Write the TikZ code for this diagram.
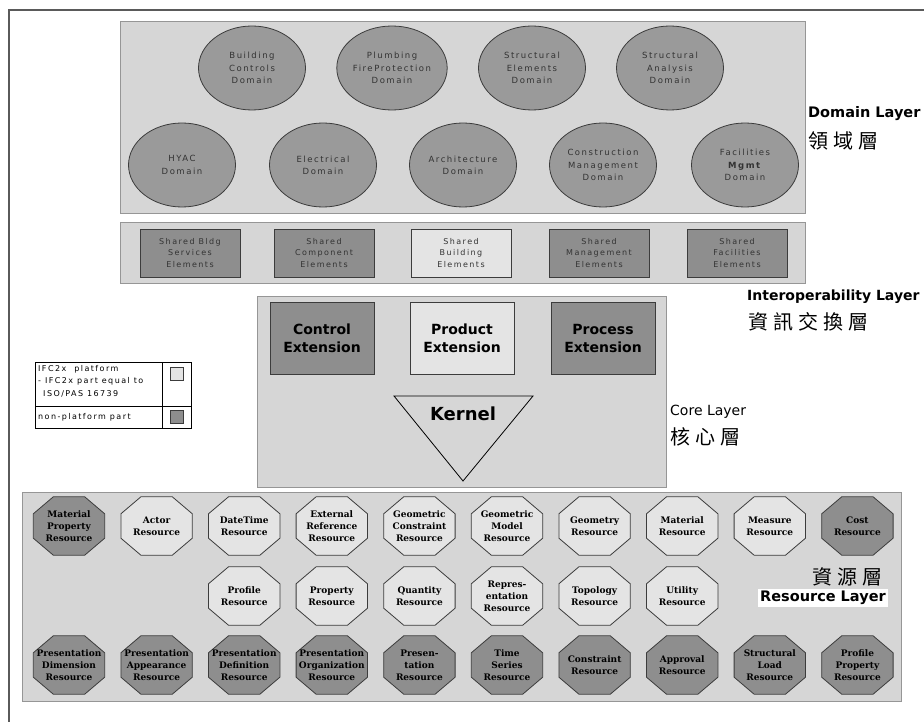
\documentclass[tikz,border=0pt]{standalone}
\usepackage{fontspec}
\setmainfont{DejaVu Sans}
\newfontfamily\cjk[LetterSpace=25]{Noto Sans CJK TC}
\newfontfamily\resfont{DejaVu Serif}
\newfontfamily\widefont[LetterSpace=18]{DejaVu Sans}
\usetikzlibrary{shapes.geometric}

\definecolor{layerFill}{RGB}{214,214,214}
\definecolor{layerLine}{RGB}{150,150,150}
\definecolor{nodeLine}{RGB}{60,60,60}
\definecolor{domainFill}{RGB}{154,154,154}
\definecolor{darkFill}{RGB}{142,142,142}
\definecolor{lightFill}{RGB}{228,228,228}
\definecolor{frameLine}{RGB}{90,90,90}

\begin{document}
\begin{tikzpicture}
[x=1pt,y=-1pt,
  layerDecorate/.style={draw=layerLine,fill=layerFill,line width=0.8pt},%
  domainDecorate/.style={shape=ellipse,draw=nodeLine,fill=domainFill,thick,
    minimum width=107pt,minimum height=84pt,inner sep=0pt,align=center,
    text=black!80,font=\widefont\fontsize{8.5}{12.3}\selectfont},%
  sharedDecorate/.style={shape=rectangle,draw=nodeLine,thick,
    minimum width=100pt,minimum height=48pt,inner sep=0pt,align=center,
    text=black!80,font=\widefont\fontsize{8}{11.5}\selectfont},%
  extDecorate/.style={shape=rectangle,draw=nodeLine,thick,
    minimum width=104pt,minimum height=72pt,inner sep=0pt,align=center,
    font=\bfseries\fontsize{14}{18}\selectfont},%
  resBox/.style={shape=rectangle,minimum width=71pt,minimum height=58pt,inner sep=0pt},%
  resLine/.style={draw=nodeLine,thick,line join=round},%
  resText/.style={align=center,inner sep=0pt,
    font=\resfont\bfseries\fontsize{9}{12}\selectfont},%
  layerLabel/.style={anchor=west,inner sep=0pt,font=\bfseries\fontsize{14.5}{16}\selectfont},%
  zhLabel/.style={anchor=west,inner sep=0pt,font=\cjk\fontsize{20}{22}\selectfont}]
%%
\useasboundingbox (0,0) rectangle (924,722);
\draw[frameLine,line width=1.2pt] (9,722) -- (9,10) -- (924,10);
%%
%% domain layer
\draw[layerDecorate] (120,21) rectangle (805,213);
\foreach \nodename/\x/\y/\txt in {
  bldgCtrl/252/68/{Building\\Controls\\Domain},
  plumbing/392/68/{Plumbing\\FireProtection\\Domain},
  structElem/532/68/{Structural\\Elements\\Domain},
  structAnal/670/68/{Structural\\Analysis\\Domain},
  hvac/182/165/{HYAC\\Domain},
  electrical/323/165/{Electrical\\Domain},
  architecture/463/165/{Architecture\\Domain},
  constrMgmt/603/165/{Construction\\Management\\Domain},
  facilities/745/165/{Facilities\\\textbf{Mgmt}\\Domain}}
{
  \node (\nodename) at (\x,\y) [domainDecorate] {\txt};
}
\node (domainEn) [layerLabel] at (808,114) {Domain Layer};
\node (domainZh) [zhLabel] at (808,141) {領域層};
%%
%% interoperability layer
\draw[layerDecorate] (120,222) rectangle (805,283);
\foreach \nodename/\x/\shade/\txt in {
  sharedBldg/190/darkFill/{Shared Bldg\\Services\\Elements},
  sharedComp/324/darkFill/{Shared\\Component\\Elements},
  sharedBuilding/461/lightFill/{Shared\\Building\\Elements},
  sharedMgmt/599/darkFill/{Shared\\Management\\Elements},
  sharedFacil/737/darkFill/{Shared\\Facilities\\Elements}}
{
  \node (\nodename) at (\x,253) [sharedDecorate,fill=\shade] {\txt};
}
\node (interopEn) [layerLabel,font=\bfseries\fontsize{14}{16}\selectfont] at (747,297) {Interoperability Layer};
\node (interopZh) [zhLabel] at (748,322) {資訊交換層};
%%
%% core layer
\draw[layerDecorate] (257,296) rectangle (666,487);
\foreach \nodename/\x/\shade/\txt in {
  controlExt/322/darkFill/{Control\\Extension},
  productExt/462/lightFill/{Product\\Extension},
  processExt/603/darkFill/{Process\\Extension}}
{
  \node (\nodename) at (\x,338) [extDecorate,fill=\shade] {\txt};
}
\draw[black,thick] (394,396) -- (533,396) -- (463,481) -- cycle;
\node (kernel) at (463,414) [font=\bfseries\fontsize{18}{20}\selectfont] {Kernel};
\node (coreEn) [layerLabel,font=\fontsize{14}{16}\selectfont] at (670,412) {Core Layer};
\node (coreZh) [zhLabel] at (670,437) {核心層};
%%
%% legend
\draw[black,thick] (35,362) rectangle (191,428);
\draw[black,thick] (162,362) -- (162,428);
\draw[black,thick] (35,406) -- (191,406);
\node (legendTop) [anchor=north west,align=left,inner sep=0pt,
  font=\widefont\fontsize{8}{12.5}\selectfont] at (38,365)
  {IFC2x\quad platform\\- IFC2x part equal to\\\hspace*{5pt}ISO/PAS 16739};
\node (legendBot) [anchor=west,inner sep=0pt,font=\widefont\fontsize{8}{12}\selectfont]
  at (38,417) {non-platform part};
\node (legendLight) at (177,374) [draw=nodeLine,thick,fill=lightFill,minimum size=13pt,inner sep=0pt] {};
\node (legendDark) at (177,417) [draw=nodeLine,thick,fill=darkFill,minimum size=13pt,inner sep=0pt] {};
%%
%% resource layer
\draw[layerDecorate] (22,492) rectangle (901,701);
\foreach \nodename/\i/\y/\shade/\txt in {
  matProp/0/526/darkFill/{Material\\Property\\Resource},
  actor/1/526/lightFill/{Actor\\Resource},
  dateTime/2/526/lightFill/{DateTime\\Resource},
  extRef/3/526/lightFill/{External\\Reference\\Resource},
  geomConstr/4/526/lightFill/{Geometric\\Constraint\\Resource},
  geomModel/5/526/lightFill/{Geometric\\Model\\Resource},
  geometry/6/526/lightFill/{Geometry\\Resource},
  material/7/526/lightFill/{Material\\Resource},
  measure/8/526/lightFill/{Measure\\Resource},
  cost/9/526/darkFill/{Cost\\Resource},
  profile/2/596/lightFill/{Profile\\Resource},
  property/3/596/lightFill/{Property\\Resource},
  quantity/4/596/lightFill/{Quantity\\Resource},
  represent/5/596/lightFill/{Repres-\\entation\\Resource},
  topology/6/596/lightFill/{Topology\\Resource},
  utility/7/596/lightFill/{Utility\\Resource},
  presDim/0/665/darkFill/{Presentation\\Dimension\\Resource},
  presApp/1/665/darkFill/{Presentation\\Appearance\\Resource},
  presDef/2/665/darkFill/{Presentation\\Definition\\Resource},
  presOrg/3/665/darkFill/{Presentation\\Organization\\Resource},
  presen/4/665/darkFill/{Presen-\\tation\\Resource},
  timeSeries/5/665/darkFill/{Time\\Series\\Resource},
  constraint/6/665/darkFill/{Constraint\\Resource},
  approval/7/665/darkFill/{Approval\\Resource},
  structLoad/8/665/darkFill/{Structural\\Load\\Resource},
  profProp/9/665/darkFill/{Profile\\Property\\Resource}}
{
  \node (\nodename) at ({69+87.6*\i},\y) [resBox] {};
  \filldraw[resLine,fill=\shade]
    ([xshift=20pt]\nodename.north west) -- ([xshift=-20pt]\nodename.north east)
    -- ([yshift=-17pt]\nodename.north east) -- ([yshift=17pt]\nodename.south east)
    -- ([xshift=-20pt]\nodename.south east) -- ([xshift=20pt]\nodename.south west)
    -- ([yshift=17pt]\nodename.south west) -- ([yshift=-17pt]\nodename.north west)
    -- cycle;
  \node (\nodename-text) at (\nodename) [resText] {\txt};
}
\node (resourceZh) [zhLabel] at (812,577) {資源層};
\node (resourceEn) [layerLabel,fill=white,inner sep=2pt] at (758,598) {Resource Layer};
\end{tikzpicture}
\end{document}
